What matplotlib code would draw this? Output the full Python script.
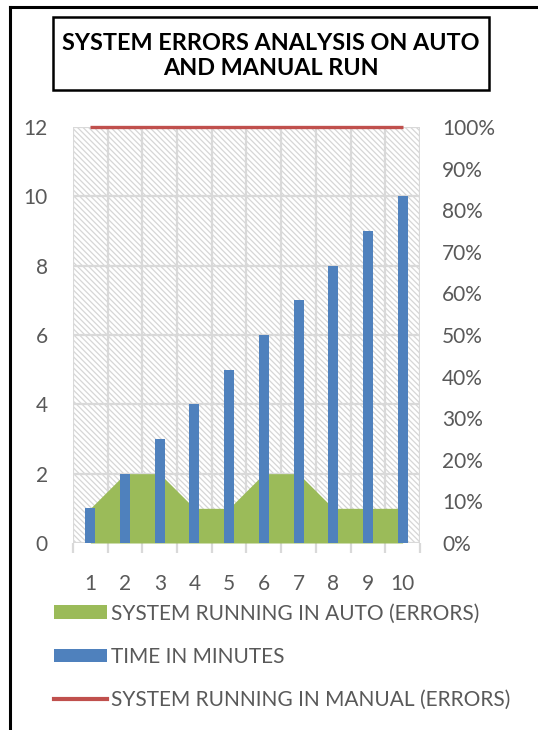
import matplotlib
matplotlib.use("Agg")
import matplotlib.pyplot as plt
from matplotlib.patches import Patch, Rectangle
from matplotlib.lines import Line2D
from matplotlib.ticker import MultipleLocator, PercentFormatter

# data
categories = [1, 2, 3, 4, 5, 6, 7, 8, 9, 10]
auto_errors = [1, 2, 2, 1, 1, 2, 2, 1, 1, 1]
time_minutes = [1, 2, 3, 4, 5, 6, 7, 8, 9, 10]
manual_errors = [1.0] * 10  # share on the secondary axis (100%)

title = "SYSTEM ERRORS ANALYSIS ON AUTO\nAND MANUAL RUN"
labels = [
    "SYSTEM RUNNING IN AUTO (ERRORS)",
    "TIME IN MINUTES",
    "SYSTEM RUNNING IN MANUAL (ERRORS)",
]

GREEN = "#9BBB59"
BLUE = "#4F81BD"
RED = "#C0504D"
GRID = "#d9d9d9"
TEXT = "#595959"

plt.rcParams["font.family"] = ["Lato", "DejaVu Sans"]
plt.rcParams["hatch.linewidth"] = 0.9
plt.rcParams["hatch.color"] = "#d6d6d6"

W, H = 538, 730
fig = plt.figure(figsize=(W / 100, H / 100), dpi=100)


def fx(px):
    return px / W


def fy(px):
    return 1 - px / H


# outer frame (left and top edges only visible in the reference)
fig.add_artist(Line2D([fx(10), fx(10)], [fy(7), 0], color="black", lw=2.2,
                      transform=fig.transFigure))
fig.add_artist(Line2D([fx(10), 1], [fy(7), fy(7)], color="black", lw=2.2,
                      transform=fig.transFigure))

# title box
fig.add_artist(Rectangle((fx(53), fy(90)), fx(489) - fx(53), fy(17) - fy(90),
                         transform=fig.transFigure, fill=False,
                         edgecolor="black", lw=1.8))
fig.text(fx(271), fy(56), title, ha="center", va="center", fontsize=16.8,
         fontweight="bold", linespacing=1.25, color="black")

ax = fig.add_axes([fx(73), fy(543), fx(420) - fx(73), fy(127) - fy(543)])
ax2 = ax.twinx()

# hatched plot background
ax.add_patch(Rectangle((0, 0), 1, 1, transform=ax.transAxes, facecolor="white",
                       edgecolor="#d6d6d6", hatch="\\\\\\\\\\\\", lw=0, zorder=0))

ax.set_xlim(0.5, 10.5)
ax.set_ylim(0, 12)
ax2.set_ylim(0, 1.0)

for v in range(0, 13, 2):
    ax.axhline(v, color=GRID, lw=1.6, zorder=1)
for c in range(len(categories) + 1):
    ax.axvline(0.5 + c, color=GRID, lw=1.6, zorder=1)

ax.fill_between(categories, auto_errors, 0, color=GREEN, lw=0, zorder=2)
ax.bar(categories, time_minutes, width=0.29, color=BLUE, zorder=3)
ax2.plot(categories, manual_errors, color=RED, lw=2.4, solid_capstyle="butt",
         zorder=4, clip_on=False)

for s in ax.spines.values():
    s.set_visible(False)
for s in ax2.spines.values():
    s.set_visible(False)

ax.yaxis.set_major_locator(MultipleLocator(2))
ax.tick_params(axis="y", length=0, pad=18, labelsize=15, labelcolor=TEXT)
ax2.yaxis.set_major_locator(MultipleLocator(0.1))
ax2.yaxis.set_major_formatter(PercentFormatter(1.0, decimals=0))
ax2.tick_params(axis="y", length=0, pad=16, labelsize=15, labelcolor=TEXT)

ax.set_xticks(categories)
ax.set_xticklabels([str(c) for c in categories])
ax.set_xticks([0.5 + c for c in range(len(categories) + 1)], minor=True)
ax.tick_params(axis="x", which="major", length=0, pad=22, labelsize=15,
               labelcolor=TEXT)
ax.tick_params(axis="x", which="minor", length=7, width=1.6, color=GRID)

handles = [
    Patch(facecolor=GREEN, edgecolor="none"),
    Patch(facecolor=BLUE, edgecolor="none"),
    Line2D([], [], color=RED, lw=3),
]
fig.legend(handles, labels, loc="upper left",
           bbox_to_anchor=(fx(44), fy(593)), frameon=False, fontsize=15,
           labelcolor=TEXT, handlelength=2.5, handleheight=0.62,
           handletextpad=0.22, labelspacing=1.12, borderpad=0)

fig.savefig("out.png", dpi=100)
